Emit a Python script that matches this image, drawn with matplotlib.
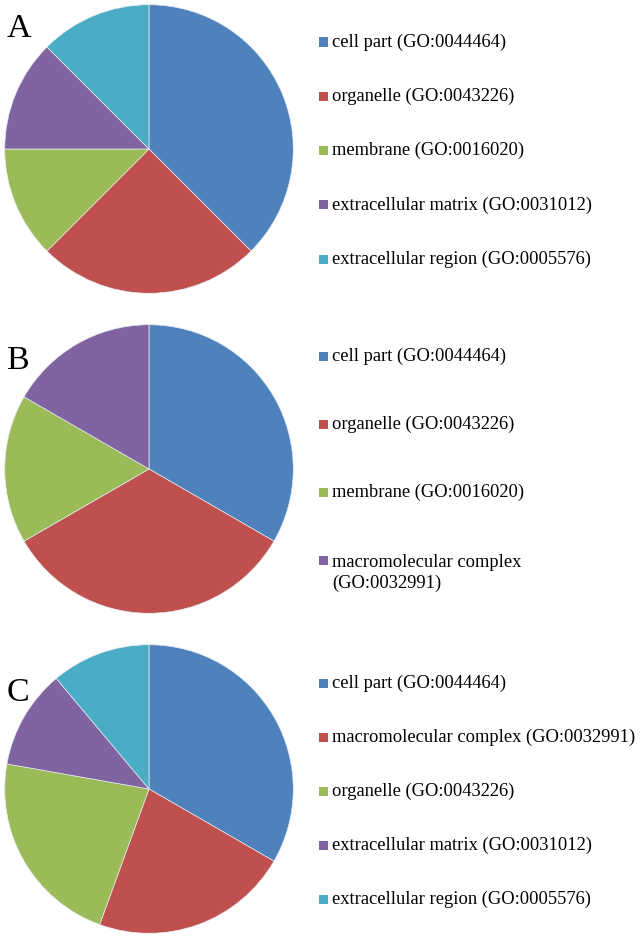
import matplotlib
matplotlib.use("Agg")
import matplotlib.pyplot as plt
from matplotlib.patches import Rectangle

# ---- data ----
labels_A = ["cell part (GO:0044464)", "organelle (GO:0043226)", "membrane (GO:0016020)",
            "extracellular matrix (GO:0031012)", "extracellular region (GO:0005576)"]
values_A = [3, 2, 1, 1, 1]

labels_B = ["cell part (GO:0044464)", "organelle (GO:0043226)", "membrane (GO:0016020)",
            "macromolecular complex\n(GO:0032991)"]
values_B = [2, 2, 1, 1]

labels_C = ["cell part (GO:0044464)", "macromolecular complex (GO:0032991)", "organelle (GO:0043226)",
            "extracellular matrix (GO:0031012)", "extracellular region (GO:0005576)"]
values_C = [3, 2, 2, 1, 1]

panel_letters = ["A", "B", "C"]
colors = ["#4F81BD", "#C0504D", "#9BBB59", "#8064A2", "#4BACC6"]

# ---- layout (pixels, top-origin) ----
W, H = 640, 939
fig = plt.figure(figsize=(W / 100, H / 100), dpi=100)
FONT = ["Liberation Serif", "DejaVu Serif"]

panels = [
    (labels_A, values_A, (149, 149), 29, 42, 54.3),
    (labels_B, values_B, (149, 469), 361, 356, 68.0),
    (labels_C, values_C, (149, 789), 693, 683, 54.2),
]
R = 145

def fx(x):
    return x / W

def fy(y):
    return 1 - y / H

for (labels, values, (cx, cy), ly, y0, dy), letter in zip(panels, panel_letters):
    ax = fig.add_axes([fx(cx - R), fy(cy + R), 2 * R / W, 2 * R / H])
    ax.pie(values, colors=colors[:len(values)], startangle=90, counterclock=False,
           radius=1, wedgeprops=dict(edgecolor="#e4eaf2", linewidth=0.5))
    ax.set_xlim(-1.005, 1.005)
    ax.set_ylim(-1.005, 1.005)
    ax.set_aspect("auto")
    ax.axis("off")

    fig.text(fx(7), fy(ly), letter, fontsize=24.5, family=FONT, ha="left", va="center")

    for i, lab in enumerate(labels):
        y = y0 + i * dy
        sq = 9
        fig.patches.append(Rectangle((fx(319), fy(y + sq / 2)), sq / W, sq / H,
                                     transform=fig.transFigure, facecolor=colors[i],
                                     edgecolor="none"))
        if "\n" in lab:
            fig.text(fx(332), fy(y - 6), lab, fontsize=13.3, family=FONT,
                     ha="left", va="top", linespacing=1.25)
        else:
            fig.text(fx(332), fy(y), lab, fontsize=13.3, family=FONT,
                     ha="left", va="center")

fig.savefig("out.png", dpi=100, facecolor="white")
